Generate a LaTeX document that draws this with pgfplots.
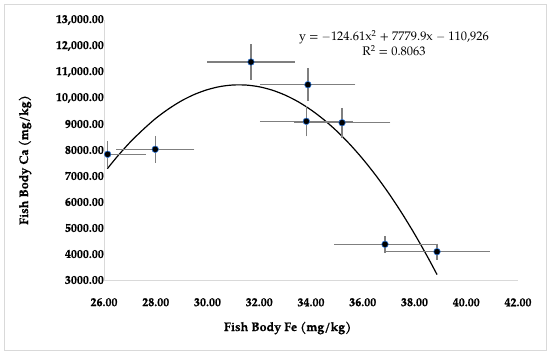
\documentclass[border=0pt]{standalone}
\usepackage{fontspec}
\setmainfont{texgyrepagella}[Extension=.otf, UprightFont=*-regular, BoldFont=*-bold, ItalicFont=*-italic, BoldItalicFont=*-bolditalic, BoldFeatures={FakeBold=0.6}]
\usepackage{pgfplots}
\pgfplotsset{compat=1.18}
\definecolor{axgray}{HTML}{D9D9D9}
\definecolor{errgray}{HTML}{7F7F7F}
\definecolor{mkblue}{HTML}{2E75D6}
\begin{document}
\begin{tikzpicture}[x=1bp,y=1bp]
\useasboundingbox (0,0) rectangle (550,354);
\draw[axgray, line width=0.8bp] (4,4) rectangle (546,350);
\begin{axis}[
  at={(104bp,74bp)}, anchor=south west,
  scale only axis, width=414bp, height=260bp,
  xmin=26, xmax=42, ymin=3000, ymax=13000,
  scaled y ticks=false, scaled x ticks=false,
  axis x line=bottom, axis y line=left,
  axis line style={draw=axgray, line width=0.8bp, -},
  xtick={26,28,...,42},
  xticklabels={{\textbf{26.00}},{\textbf{28.00}},{\textbf{30.00}},{\textbf{32.00}},{\textbf{34.00}},{\textbf{36.00}},{\textbf{38.00}},{\textbf{40.00}},{\textbf{42.00}}},
  ytick={3000,4000,...,13000},
  yticklabels={{\textbf{3000.00}},{\textbf{4000.00}},{\textbf{5000.00}},{\textbf{6000.00}},{\textbf{7000.00}},{\textbf{8000.00}},{\textbf{9000.00}},{\textbf{10,000.00}},{\textbf{11,000.00}},{\textbf{12,000.00}},{\textbf{13,000.00}}},
  major tick length=0pt,
  tick label style={font=\fontsize{12}{14}\selectfont\bfseries, inner sep=0pt},
  yticklabel shift=0bp,
  xticklabel shift=18bp,
  xlabel={Fish Body Fe (mg/kg)},
  ylabel={Fish Body Ca (mg/kg)},
  every axis x label/.style={at={(axis description cs:0.4437,-0.1846)}, anchor=center, font=\fontsize{12.5}{14}\selectfont\bfseries},
  every axis y label/.style={at={(axis description cs:-0.1908,0.4615)}, anchor=center, rotate=90, font=\fontsize{12.5}{14}\selectfont\bfseries},
  clip=true,
]
\addplot[black, line width=1.2bp, smooth, no marks] coordinates {
(26.13,7282) (26.5,7734) (27,8291) (27.5,8776) (28,9217) (28.5,9584) (29,9895) (29.5,10140) (30,10322) (30.5,10443) (31,10501) (31.5,10497) (32,10431) (32.5,10302) (33,10111) (33.5,9858) (34,9542) (34.5,9164) (35,8724) (35.5,8221) (36,7656) (36.5,7029) (37,6340) (37.5,5588) (38,4774) (38.5,3898) (38.87,3209)
};
\addplot[only marks, mark=*, mark size=3.3bp,
  mark options={fill=black, draw=mkblue, line width=0.6bp},
  error bars/.cd, x dir=both, x explicit, y dir=both, y explicit,
  error bar style={errgray, line width=1.2bp},
  error mark options={errgray, line width=1.2bp, mark size=3bp}]
coordinates {
(26.14,7835) +- (1.35,385)
(27.98,8027) +- (1.40,400)
(31.68,11385) +- (1.58,570)
(33.88,10512) +- (1.72,520)
(33.82,9103) +- (1.68,460)
(35.20,9050) +- (1.75,455)
(36.86,4373) +- (1.84,200)
(38.87,4090) +- (1.93,190)
};
\end{axis}
\node[align=center, font=\fontsize{12.5}{15}\selectfont, inner sep=0pt] at (394,311) {y = $-$124.61x\textsuperscript{2} + 7779.9x $-$ 110,926\\[0bp] R\textsuperscript{2} = 0.8063};
\end{tikzpicture}
\end{document}
